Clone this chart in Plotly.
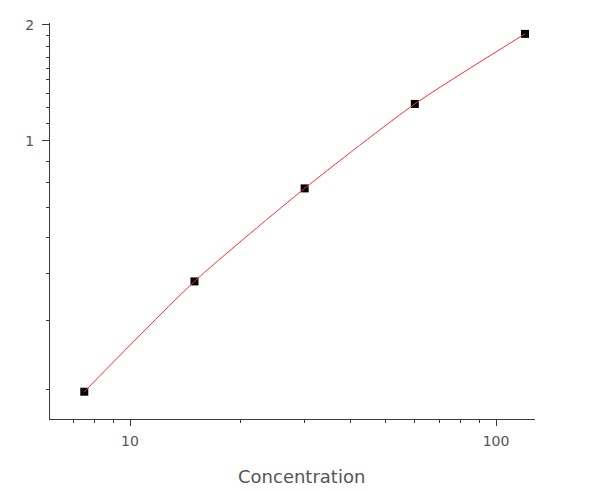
import numpy as np
import plotly.graph_objects as go

# standard concentrations and measured responses
concentration = [7.5, 15, 30, 60, 120]
response = [0.222, 0.430, 0.751, 1.246, 1.896]

# unlabeled tick marks on the axes
x_minor = [7, 8, 9, 20, 30, 40, 50, 60, 70, 80, 90]
y_minor = [1.88, 1.76, 1.65, 1.54, 1.44, 1.33, 1.22, 1.11,
           0.885, 0.78, 0.67, 0.56, 0.45, 0.34, 0.225]

axis_col = '#3a3a3a'
txt_col = '#555555'

fig = go.Figure()

fig.add_trace(go.Scatter(
    x=concentration, y=response,
    mode='markers',
    marker=dict(symbol='square', size=8, color='black', line=dict(width=0)),
    showlegend=False,
))

# fitted curve drawn on top of the standards
fig.add_trace(go.Scatter(
    x=concentration, y=response,
    mode='lines',
    line=dict(color='#ff3030', width=1, shape='spline', smoothing=0.6),
    showlegend=False,
))

fig.update_layout(
    width=600, height=492,
    margin=dict(l=50, r=65, t=23, b=73),
    paper_bgcolor='white', plot_bgcolor='white',
    font=dict(family='DejaVu Sans', size=14, color=txt_col),
)

fig.update_xaxes(
    type='log', range=[np.log10(6.045), np.log10(127.8)],
    tickmode='array', tickvals=[10, 100], ticktext=['10', '100'],
    ticks='outside', ticklen=6, tickwidth=1, tickcolor=axis_col,
    minor=dict(tickmode='array', tickvals=x_minor, ticks='outside',
               ticklen=3, tickwidth=1, tickcolor=axis_col, showgrid=False),
    showline=True, linecolor=axis_col, linewidth=1,
    showgrid=False, zeroline=False,
    tickfont=dict(size=14, color=txt_col),
    ticklabelstandoff=3,
)

fig.update_yaxes(
    type='log', range=[-0.7247, 0.3062],
    tickmode='array', tickvals=[1, 2], ticktext=['1', '2'],
    ticks='outside', ticklen=7, tickwidth=1, tickcolor=axis_col,
    minor=dict(tickmode='array', tickvals=y_minor, ticks='outside',
               ticklen=3, tickwidth=1, tickcolor=axis_col, showgrid=False),
    showline=True, linecolor=axis_col, linewidth=1,
    showgrid=False, zeroline=False,
    tickfont=dict(size=14, color=txt_col),
    ticklabelstandoff=5,
)

fig.add_annotation(
    text='Concentration', xref='paper', yref='paper',
    x=0.518, y=-0.144, xanchor='center', yanchor='middle',
    showarrow=False, font=dict(family='DejaVu Sans', size=18, color=txt_col),
)

# page has a default body margin; drop it so the figure sits at 0,0
fig.write_html('out.html',
               config={'displayModeBar': False},
               post_script="document.body.style.margin='0';document.body.style.overflow='hidden';")
